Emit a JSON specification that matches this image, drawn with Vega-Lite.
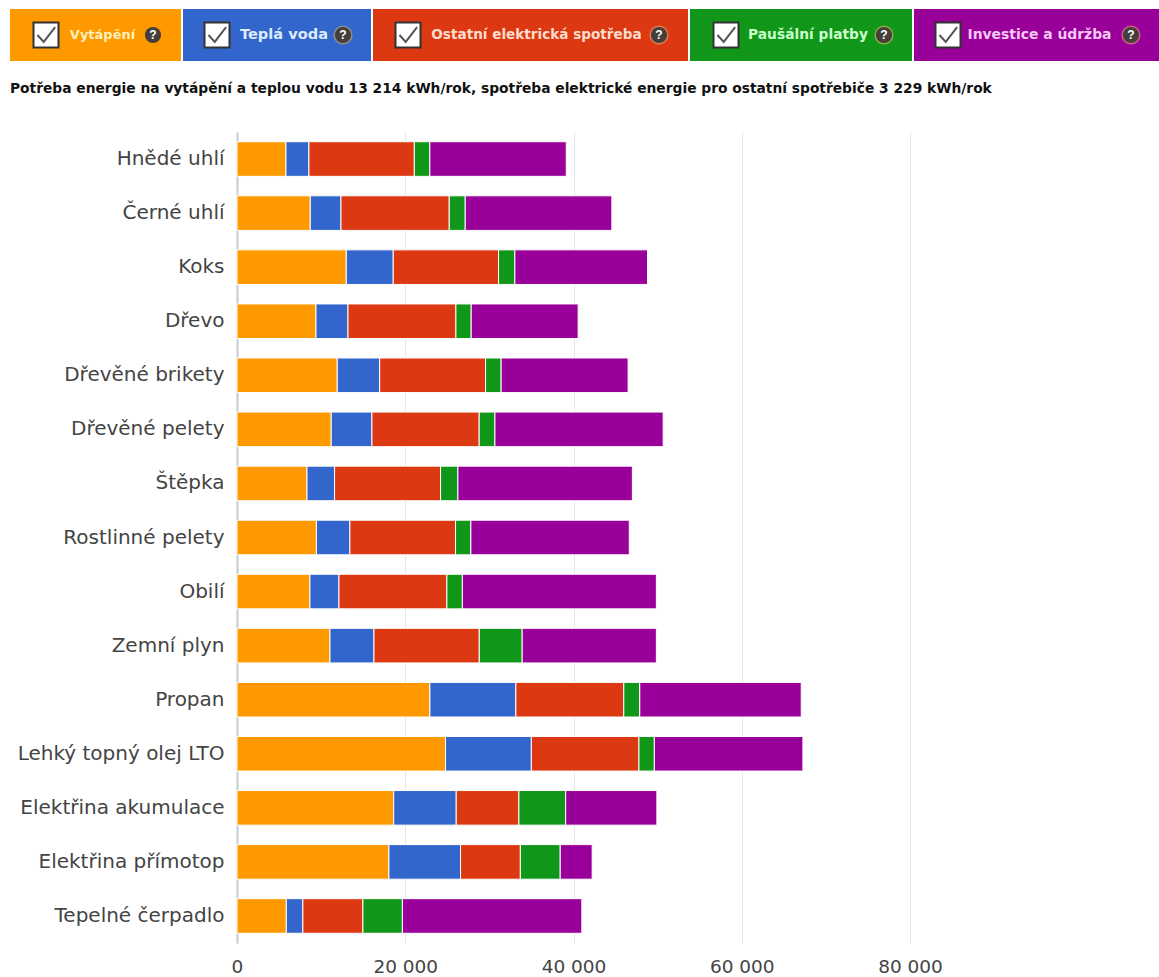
{
"$schema":"https://vega.github.io/schema/vega-lite/v6.json",
"padding":{"left":10,"top":9,"right":0,"bottom":0},
"background":"#ffffff",
"config":{"view":{"stroke":null},"concat":{"spacing":2}},
"datasets":{
"naklady":[
{"palivo":"Hnědé uhlí","slozka":"Vytápění","poradi":1,"kc":5820},{"palivo":"Hnědé uhlí","slozka":"Teplá voda","poradi":2,"kc":2730},{"palivo":"Hnědé uhlí","slozka":"Ostatní elektrická spotřeba","poradi":3,"kc":12530},{"palivo":"Hnědé uhlí","slozka":"Paušální platby","poradi":4,"kc":1840},{"palivo":"Hnědé uhlí","slozka":"Investice a údržba","poradi":5,"kc":16220},
{"palivo":"Černé uhlí","slozka":"Vytápění","poradi":1,"kc":8710},{"palivo":"Černé uhlí","slozka":"Teplá voda","poradi":2,"kc":3650},{"palivo":"Černé uhlí","slozka":"Ostatní elektrická spotřeba","poradi":3,"kc":12870},{"palivo":"Černé uhlí","slozka":"Paušální platby","poradi":4,"kc":1900},{"palivo":"Černé uhlí","slozka":"Investice a údržba","poradi":5,"kc":17430},
{"palivo":"Koks","slozka":"Vytápění","poradi":1,"kc":12990},{"palivo":"Koks","slozka":"Teplá voda","poradi":2,"kc":5580},{"palivo":"Koks","slozka":"Ostatní elektrická spotřeba","poradi":3,"kc":12520},{"palivo":"Koks","slozka":"Paušální platby","poradi":4,"kc":1940},{"palivo":"Koks","slozka":"Investice a údržba","poradi":5,"kc":15770},
{"palivo":"Dřevo","slozka":"Vytápění","poradi":1,"kc":9390},{"palivo":"Dřevo","slozka":"Teplá voda","poradi":2,"kc":3800},{"palivo":"Dřevo","slozka":"Ostatní elektrická spotřeba","poradi":3,"kc":12830},{"palivo":"Dřevo","slozka":"Paušální platby","poradi":4,"kc":1820},{"palivo":"Dřevo","slozka":"Investice a údržba","poradi":5,"kc":12710},
{"palivo":"Dřevěné brikety","slozka":"Vytápění","poradi":1,"kc":11920},{"palivo":"Dřevěné brikety","slozka":"Teplá voda","poradi":2,"kc":5040},{"palivo":"Dřevěné brikety","slozka":"Ostatní elektrická spotřeba","poradi":3,"kc":12590},{"palivo":"Dřevěné brikety","slozka":"Paušální platby","poradi":4,"kc":1850},{"palivo":"Dřevěné brikety","slozka":"Investice a údržba","poradi":5,"kc":15090},
{"palivo":"Dřevěné pelety","slozka":"Vytápění","poradi":1,"kc":11200},{"palivo":"Dřevěné pelety","slozka":"Teplá voda","poradi":2,"kc":4840},{"palivo":"Dřevěné pelety","slozka":"Ostatní elektrická spotřeba","poradi":3,"kc":12750},{"palivo":"Dřevěné pelety","slozka":"Paušální platby","poradi":4,"kc":1870},{"palivo":"Dřevěné pelety","slozka":"Investice a údržba","poradi":5,"kc":20000},
{"palivo":"Štěpka","slozka":"Vytápění","poradi":1,"kc":8320},{"palivo":"Štěpka","slozka":"Teplá voda","poradi":2,"kc":3280},{"palivo":"Štěpka","slozka":"Ostatní elektrická spotřeba","poradi":3,"kc":12600},{"palivo":"Štěpka","slozka":"Paušální platby","poradi":4,"kc":2060},{"palivo":"Štěpka","slozka":"Investice a údržba","poradi":5,"kc":20740},
{"palivo":"Rostlinné pelety","slozka":"Vytápění","poradi":1,"kc":9440},{"palivo":"Rostlinné pelety","slozka":"Teplá voda","poradi":2,"kc":3980},{"palivo":"Rostlinné pelety","slozka":"Ostatní elektrická spotřeba","poradi":3,"kc":12560},{"palivo":"Rostlinné pelety","slozka":"Paušální platby","poradi":4,"kc":1820},{"palivo":"Rostlinné pelety","slozka":"Investice a údržba","poradi":5,"kc":18830},
{"palivo":"Obilí","slozka":"Vytápění","poradi":1,"kc":8670},{"palivo":"Obilí","slozka":"Teplá voda","poradi":2,"kc":3450},{"palivo":"Obilí","slozka":"Ostatní elektrická spotřeba","poradi":3,"kc":12830},{"palivo":"Obilí","slozka":"Paušální platby","poradi":4,"kc":1840},{"palivo":"Obilí","slozka":"Investice a údržba","poradi":5,"kc":23060},
{"palivo":"Zemní plyn","slozka":"Vytápění","poradi":1,"kc":11050},{"palivo":"Zemní plyn","slozka":"Teplá voda","poradi":2,"kc":5230},{"palivo":"Zemní plyn","slozka":"Ostatní elektrická spotřeba","poradi":3,"kc":12520},{"palivo":"Zemní plyn","slozka":"Paušální platby","poradi":4,"kc":5100},{"palivo":"Zemní plyn","slozka":"Investice a údržba","poradi":5,"kc":15950},
{"palivo":"Propan","slozka":"Vytápění","poradi":1,"kc":22930},{"palivo":"Propan","slozka":"Teplá voda","poradi":2,"kc":10220},{"palivo":"Propan","slozka":"Ostatní elektrická spotřeba","poradi":3,"kc":12830},{"palivo":"Propan","slozka":"Paušální platby","poradi":4,"kc":1900},{"palivo":"Propan","slozka":"Investice a údržba","poradi":5,"kc":19190},
{"palivo":"Lehký topný olej LTO","slozka":"Vytápění","poradi":1,"kc":24790},{"palivo":"Lehký topný olej LTO","slozka":"Teplá voda","poradi":2,"kc":10200},{"palivo":"Lehký topný olej LTO","slozka":"Ostatní elektrická spotřeba","poradi":3,"kc":12790},{"palivo":"Lehký topný olej LTO","slozka":"Paušální platby","poradi":4,"kc":1830},{"palivo":"Lehký topný olej LTO","slozka":"Investice a údržba","poradi":5,"kc":17660},
{"palivo":"Elektřina akumulace","slozka":"Vytápění","poradi":1,"kc":18630},{"palivo":"Elektřina akumulace","slozka":"Teplá voda","poradi":2,"kc":7430},{"palivo":"Elektřina akumulace","slozka":"Ostatní elektrická spotřeba","poradi":3,"kc":7450},{"palivo":"Elektřina akumulace","slozka":"Paušální platby","poradi":4,"kc":5560},{"palivo":"Elektřina akumulace","slozka":"Investice a údržba","poradi":5,"kc":10840},
{"palivo":"Elektřina přímotop","slozka":"Vytápění","poradi":1,"kc":18060},{"palivo":"Elektřina přímotop","slozka":"Teplá voda","poradi":2,"kc":8510},{"palivo":"Elektřina přímotop","slozka":"Ostatní elektrická spotřeba","poradi":3,"kc":7110},{"palivo":"Elektřina přímotop","slozka":"Paušální platby","poradi":4,"kc":4740},{"palivo":"Elektřina přímotop","slozka":"Investice a údržba","poradi":5,"kc":3800},
{"palivo":"Tepelné čerpadlo","slozka":"Vytápění","poradi":1,"kc":5860},{"palivo":"Tepelné čerpadlo","slozka":"Teplá voda","poradi":2,"kc":1970},{"palivo":"Tepelné čerpadlo","slozka":"Ostatní elektrická spotřeba","poradi":3,"kc":7140},{"palivo":"Tepelné čerpadlo","slozka":"Paušální platby","poradi":4,"kc":4690},{"palivo":"Tepelné čerpadlo","slozka":"Investice a údržba","poradi":5,"kc":21330}
]
},
"vconcat":[
{"hconcat":[
{"width":171,"height":52,"view":{"fill":"#ff9900","stroke":null},
 "data":{"values":[{"nazev":"Vytápění","cast":"check"},{"nazev":"Vytápění","cast":"label"},{"nazev":"Vytápění","cast":"help"}]},
 "encoding":{"x":{"field":"cast","type":"nominal","axis":null,"scale":{"type":"point","padding":0,"domain":["check","label","help"],"range":[36,143]}}},
 "layer":[
  {"transform":[{"filter":"datum.cast==='check'"}],"mark":{"type":"point","shape":"square","size":625,"filled":true,"fill":"#ffffff","stroke":"#333333","strokeWidth":2,"opacity":1}},
  {"transform":[{"filter":"datum.cast==='check'"}],"mark":{"type":"point","shape":"M-0.75,0 L-0.2,0.6 L0.8,-0.7","size":520,"filled":false,"stroke":"#555555","strokeWidth":2,"opacity":1}},
  {"transform":[{"filter":"datum.cast==='label'"}],"mark":{"type":"text","font":"DejaVu Sans","fontWeight":"bold","fontSize":13,"fill":"#ffefb8","dx":3},"encoding":{"text":{"field":"nazev"}}},
  {"transform":[{"filter":"datum.cast==='help'"}],"mark":{"type":"point","shape":"circle","size":260,"filled":true,"fill":"#443f3a","opacity":1}},
  {"transform":[{"filter":"datum.cast==='help'"}],"mark":{"type":"text","text":"?","font":"Liberation Sans","fontWeight":"bold","fontSize":12,"fill":"#ffffff"}}
 ]},
{"width":188,"height":52,"view":{"fill":"#3366cc","stroke":null},
 "data":{"values":[{"nazev":"Teplá voda","cast":"check"},{"nazev":"Teplá voda","cast":"label"},{"nazev":"Teplá voda","cast":"help"}]},
 "encoding":{"x":{"field":"cast","type":"nominal","axis":null,"scale":{"type":"point","padding":0,"domain":["check","label","help"],"range":[34,160]}}},
 "layer":[
  {"transform":[{"filter":"datum.cast==='check'"}],"mark":{"type":"point","shape":"square","size":625,"filled":true,"fill":"#ffffff","stroke":"#333333","strokeWidth":2,"opacity":1}},
  {"transform":[{"filter":"datum.cast==='check'"}],"mark":{"type":"point","shape":"M-0.75,0 L-0.2,0.6 L0.8,-0.7","size":520,"filled":false,"stroke":"#555555","strokeWidth":2,"opacity":1}},
  {"transform":[{"filter":"datum.cast==='label'"}],"mark":{"type":"text","font":"DejaVu Sans","fontWeight":"bold","fontSize":14.6,"fill":"#dcebff","dx":4},"encoding":{"text":{"field":"nazev"}}},
  {"transform":[{"filter":"datum.cast==='help'"}],"mark":{"type":"point","shape":"circle","size":314,"filled":true,"fill":"#443f3a","stroke":"#8f8f8f","strokeWidth":1.5,"opacity":1}},
  {"transform":[{"filter":"datum.cast==='help'"}],"mark":{"type":"text","text":"?","font":"Liberation Sans","fontWeight":"bold","fontSize":12,"fill":"#ffffff"}}
 ]},
{"width":315,"height":52,"view":{"fill":"#dc3912","stroke":null},
 "data":{"values":[{"nazev":"Ostatní elektrická spotřeba","cast":"check"},{"nazev":"Ostatní elektrická spotřeba","cast":"label"},{"nazev":"Ostatní elektrická spotřeba","cast":"help"}]},
 "encoding":{"x":{"field":"cast","type":"nominal","axis":null,"scale":{"type":"point","padding":0,"domain":["check","label","help"],"range":[35,286]}}},
 "layer":[
  {"transform":[{"filter":"datum.cast==='check'"}],"mark":{"type":"point","shape":"square","size":625,"filled":true,"fill":"#ffffff","stroke":"#333333","strokeWidth":2,"opacity":1}},
  {"transform":[{"filter":"datum.cast==='check'"}],"mark":{"type":"point","shape":"M-0.75,0 L-0.2,0.6 L0.8,-0.7","size":520,"filled":false,"stroke":"#555555","strokeWidth":2,"opacity":1}},
  {"transform":[{"filter":"datum.cast==='label'"}],"mark":{"type":"text","font":"DejaVu Sans","fontWeight":"bold","fontSize":13.6,"fill":"#ffdccc","dx":3},"encoding":{"text":{"field":"nazev"}}},
  {"transform":[{"filter":"datum.cast==='help'"}],"mark":{"type":"point","shape":"circle","size":314,"filled":true,"fill":"#443f3a","stroke":"#e07a5a","strokeWidth":1.5,"opacity":1}},
  {"transform":[{"filter":"datum.cast==='help'"}],"mark":{"type":"text","text":"?","font":"Liberation Sans","fontWeight":"bold","fontSize":12,"fill":"#ffffff"}}
 ]},
{"width":222,"height":52,"view":{"fill":"#109618","stroke":null},
 "data":{"values":[{"nazev":"Paušální platby","cast":"check"},{"nazev":"Paušální platby","cast":"label"},{"nazev":"Paušální platby","cast":"help"}]},
 "encoding":{"x":{"field":"cast","type":"nominal","axis":null,"scale":{"type":"point","padding":0,"domain":["check","label","help"],"range":[36,194]}}},
 "layer":[
  {"transform":[{"filter":"datum.cast==='check'"}],"mark":{"type":"point","shape":"square","size":625,"filled":true,"fill":"#ffffff","stroke":"#333333","strokeWidth":2,"opacity":1}},
  {"transform":[{"filter":"datum.cast==='check'"}],"mark":{"type":"point","shape":"M-0.75,0 L-0.2,0.6 L0.8,-0.7","size":520,"filled":false,"stroke":"#555555","strokeWidth":2,"opacity":1}},
  {"transform":[{"filter":"datum.cast==='label'"}],"mark":{"type":"text","font":"DejaVu Sans","fontWeight":"bold","fontSize":13.8,"fill":"#c9ffc9","dx":3},"encoding":{"text":{"field":"nazev"}}},
  {"transform":[{"filter":"datum.cast==='help'"}],"mark":{"type":"point","shape":"circle","size":314,"filled":true,"fill":"#443f3a","stroke":"#8fa84a","strokeWidth":1.5,"opacity":1}},
  {"transform":[{"filter":"datum.cast==='help'"}],"mark":{"type":"text","text":"?","font":"Liberation Sans","fontWeight":"bold","fontSize":12,"fill":"#ffffff"}}
 ]},
{"width":245,"height":52,"view":{"fill":"#990099","stroke":null},
 "data":{"values":[{"nazev":"Investice a údržba","cast":"check"},{"nazev":"Investice a údržba","cast":"label"},{"nazev":"Investice a údržba","cast":"help"}]},
 "encoding":{"x":{"field":"cast","type":"nominal","axis":null,"scale":{"type":"point","padding":0,"domain":["check","label","help"],"range":[34,217]}}},
 "layer":[
  {"transform":[{"filter":"datum.cast==='check'"}],"mark":{"type":"point","shape":"square","size":625,"filled":true,"fill":"#ffffff","stroke":"#333333","strokeWidth":2,"opacity":1}},
  {"transform":[{"filter":"datum.cast==='check'"}],"mark":{"type":"point","shape":"M-0.75,0 L-0.2,0.6 L0.8,-0.7","size":520,"filled":false,"stroke":"#555555","strokeWidth":2,"opacity":1}},
  {"transform":[{"filter":"datum.cast==='label'"}],"mark":{"type":"text","font":"DejaVu Sans","fontWeight":"bold","fontSize":13.9,"fill":"#f7c8f7"},"encoding":{"text":{"field":"nazev"}}},
  {"transform":[{"filter":"datum.cast==='help'"}],"mark":{"type":"point","shape":"circle","size":314,"filled":true,"fill":"#443f3a","stroke":"#d0608a","strokeWidth":1.5,"opacity":1}},
  {"transform":[{"filter":"datum.cast==='help'"}],"mark":{"type":"text","text":"?","font":"Liberation Sans","fontWeight":"bold","fontSize":12,"fill":"#ffffff"}}
 ]}
]},
{"title":{"text":"Potřeba energie na vytápění a teplou vodu 13 214 kWh/rok, spotřeba elektrické energie pro ostatní spotřebiče 3 229 kWh/rok","anchor":"start","font":"DejaVu Sans","fontWeight":"bold","fontSize":13.8,"color":"#111111","offset":36},
 "bounds":"flush","spacing":0,
 "hconcat":[
 {"width":227,"height":811,"data":{"values":[]},"mark":{"type":"point","opacity":0},"encoding":{}},
 {"width":673,"height":811,
 "data":{"name":"naklady"},
 "mark":{"type":"bar","stroke":"#ffffff","strokeWidth":1},
 "encoding":{
  "y":{"field":"palivo","type":"nominal","title":null,
   "sort":["Hnědé uhlí","Černé uhlí","Koks","Dřevo","Dřevěné brikety","Dřevěné pelety","Štěpka","Rostlinné pelety","Obilí","Zemní plyn","Propan","Lehký topný olej LTO","Elektřina akumulace","Elektřina přímotop","Tepelné čerpadlo"],
   "scale":{"paddingInner":0.36,"paddingOuter":0.18},
   "axis":{"ticks":false,"domainColor":"#c4ccd4","domainWidth":2,"labelFont":"DejaVu Sans","labelFontSize":20,"labelColor":"#444444","labelPadding":13,"labelLimit":260}},
  "x":{"field":"kc","type":"quantitative","title":null,"stack":"zero",
   "scale":{"domain":[0,80000],"nice":false},
   "axis":{"values":[0,20000,40000,60000,80000],"labelExpr":"replace(format(datum.value,','),',',' ')","labelFlush":false,"domain":false,"ticks":false,"gridColor":"#e6e6e6","gridWidth":1,"labelFont":"DejaVu Sans","labelFontSize":18.5,"labelColor":"#444444","labelPadding":14}},
  "color":{"field":"slozka","type":"nominal","legend":null,
   "scale":{"domain":["Vytápění","Teplá voda","Ostatní elektrická spotřeba","Paušální platby","Investice a údržba"],"range":["#ff9900","#3366cc","#dc3912","#109618","#990099"]}},
  "order":{"field":"poradi","type":"quantitative"}
 }}
 ]}
],
"spacing":21
}
